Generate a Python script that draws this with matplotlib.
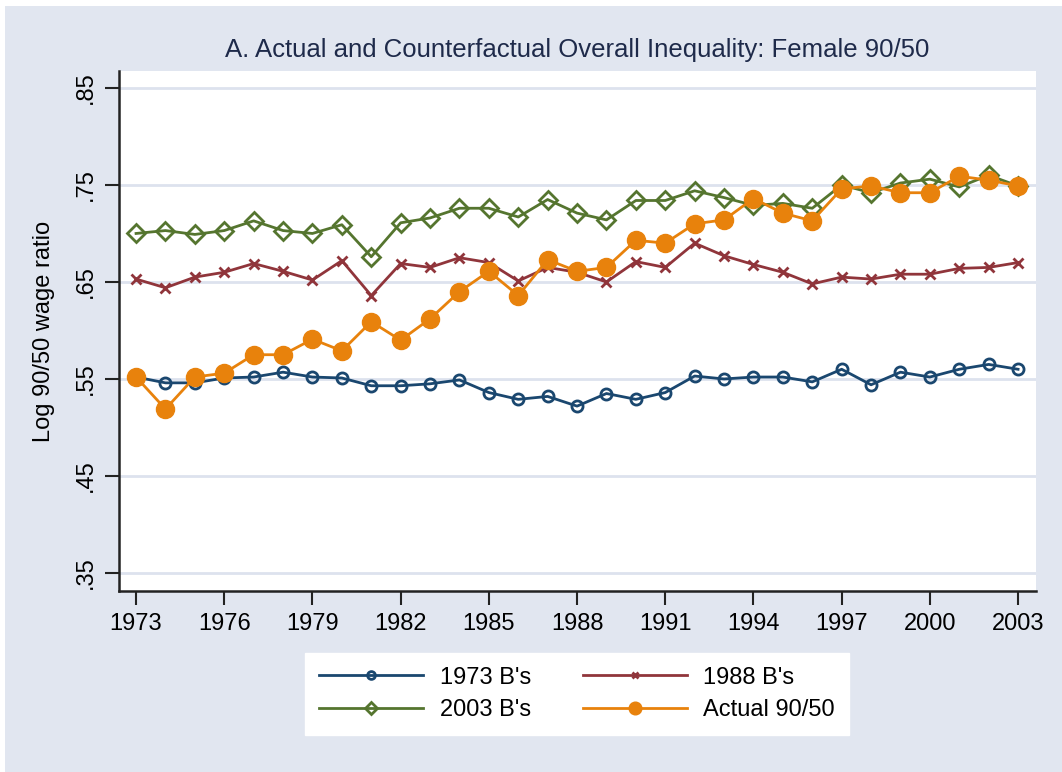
import numpy as np
import matplotlib
matplotlib.use("Agg")
import matplotlib.pyplot as plt
from matplotlib.patches import Rectangle

years = np.arange(1973, 2004)

b1973 = [0.552, 0.546, 0.546, 0.551, 0.552, 0.557, 0.552, 0.551, 0.543, 0.543,
         0.545, 0.549, 0.536, 0.529, 0.532, 0.522, 0.535, 0.529, 0.536, 0.553,
         0.550, 0.552, 0.552, 0.547, 0.560, 0.544, 0.557, 0.552, 0.560, 0.565,
         0.560]
b1988 = [0.653, 0.644, 0.655, 0.660, 0.669, 0.661, 0.652, 0.672, 0.636, 0.669,
         0.665, 0.675, 0.670, 0.651, 0.665, 0.660, 0.650, 0.671, 0.665, 0.690,
         0.677, 0.668, 0.660, 0.648, 0.655, 0.653, 0.658, 0.658, 0.664, 0.665,
         0.670]
b2003 = [0.700, 0.703, 0.699, 0.703, 0.713, 0.703, 0.700, 0.709, 0.676, 0.711,
         0.716, 0.726, 0.726, 0.717, 0.735, 0.721, 0.714, 0.734, 0.734, 0.744,
         0.737, 0.729, 0.731, 0.726, 0.750, 0.742, 0.752, 0.756, 0.748, 0.760,
         0.749]
actual = [0.552, 0.519, 0.552, 0.556, 0.575, 0.575, 0.591, 0.579, 0.609, 0.590,
          0.612, 0.640, 0.661, 0.636, 0.673, 0.661, 0.665, 0.693, 0.690, 0.710,
          0.714, 0.736, 0.721, 0.713, 0.746, 0.749, 0.742, 0.742, 0.759, 0.755,
          0.749]

x_ticks = [1973, 1976, 1979, 1982, 1985, 1988, 1991, 1994, 1997, 2000, 2003]
y_ticks = [0.35, 0.45, 0.55, 0.65, 0.75, 0.85]
y_labels = [".35", ".45", ".55", ".65", ".75", ".85"]

navy = "#1a476f"
maroon = "#90353b"
green = "#55752f"
orange = "#e8820c"
bg = "#e1e6f0"
grid = "#dde2ee"
plt.rcParams["font.family"] = ["Liberation Sans", "DejaVu Sans"]

W, H = 1062, 772
fig = plt.figure(figsize=(W / 100, H / 100), dpi=100)
fig.patch.set_facecolor("white")
fig.add_artist(Rectangle((5 / W, 0), 1, 1 - 6 / H, transform=fig.transFigure,
                         facecolor=bg, edgecolor="none", zorder=0))

ax = fig.add_axes([119 / W, (H - 591) / H, (1036 - 119) / W, (591 - 71) / H])
ax.set_facecolor("white")

l1, = ax.plot(years, b1973, color=navy, lw=2, marker="o", ms=8, mfc="none",
              mew=2, label="1973 B's")
l2, = ax.plot(years, b1988, color=maroon, lw=2, marker="x", ms=7, mew=2,
              label="1988 B's")
l3, = ax.plot(years, b2003, color=green, lw=2, marker="D", ms=9, mfc="none",
              mew=2, label="2003 B's")
l4, = ax.plot(years, actual, color=orange, lw=2, marker="o", ms=13,
              label="Actual 90/50")

ax.set_xlim(1972.42, 2003.61)
ax.set_ylim(0.3314, 0.8675)
ax.set_xticks(x_ticks)
ax.set_xticklabels([str(t) for t in x_ticks], fontsize=17)
ax.set_yticks(y_ticks)
ax.set_yticklabels(y_labels, fontsize=17, rotation=90, va="center")
ax.tick_params(direction="out", length=10, width=1.5, color="#222222", pad=6)
ax.yaxis.grid(True, color=grid, lw=2)
ax.set_axisbelow(True)
for s in ["top", "right"]:
    ax.spines[s].set_visible(False)
for s in ["left", "bottom"]:
    ax.spines[s].set_linewidth(1.8)
    ax.spines[s].set_color("#222222")

ax.set_ylabel("Log 90/50 wage ratio", fontsize=17, labelpad=14)

fig.text(577 / W, 1 - 50 / H, "A. Actual and Counterfactual Overall Inequality: Female 90/50",
         ha="center", va="center", fontsize=18.5, color="#1e2a4a")

# row-major order like the original: 1973 | 1988 / 2003 | Actual
leg = fig.legend([l1, l3, l2, l4], ["1973 B's", "2003 B's", "1988 B's", "Actual 90/50"],
                 loc="center", bbox_to_anchor=(577 / W, 1 - 694 / H), ncol=2,
                 fontsize=17, frameon=True, fancybox=False, framealpha=1,
                 handlelength=4.4, handletextpad=0.7, columnspacing=2.2,
                 borderpad=0.6, labelspacing=0.45, markerscale=0.7)
leg.get_frame().set_facecolor("white")
leg.get_frame().set_edgecolor("white")

fig.savefig("out.png", dpi=100, facecolor=fig.get_facecolor())
